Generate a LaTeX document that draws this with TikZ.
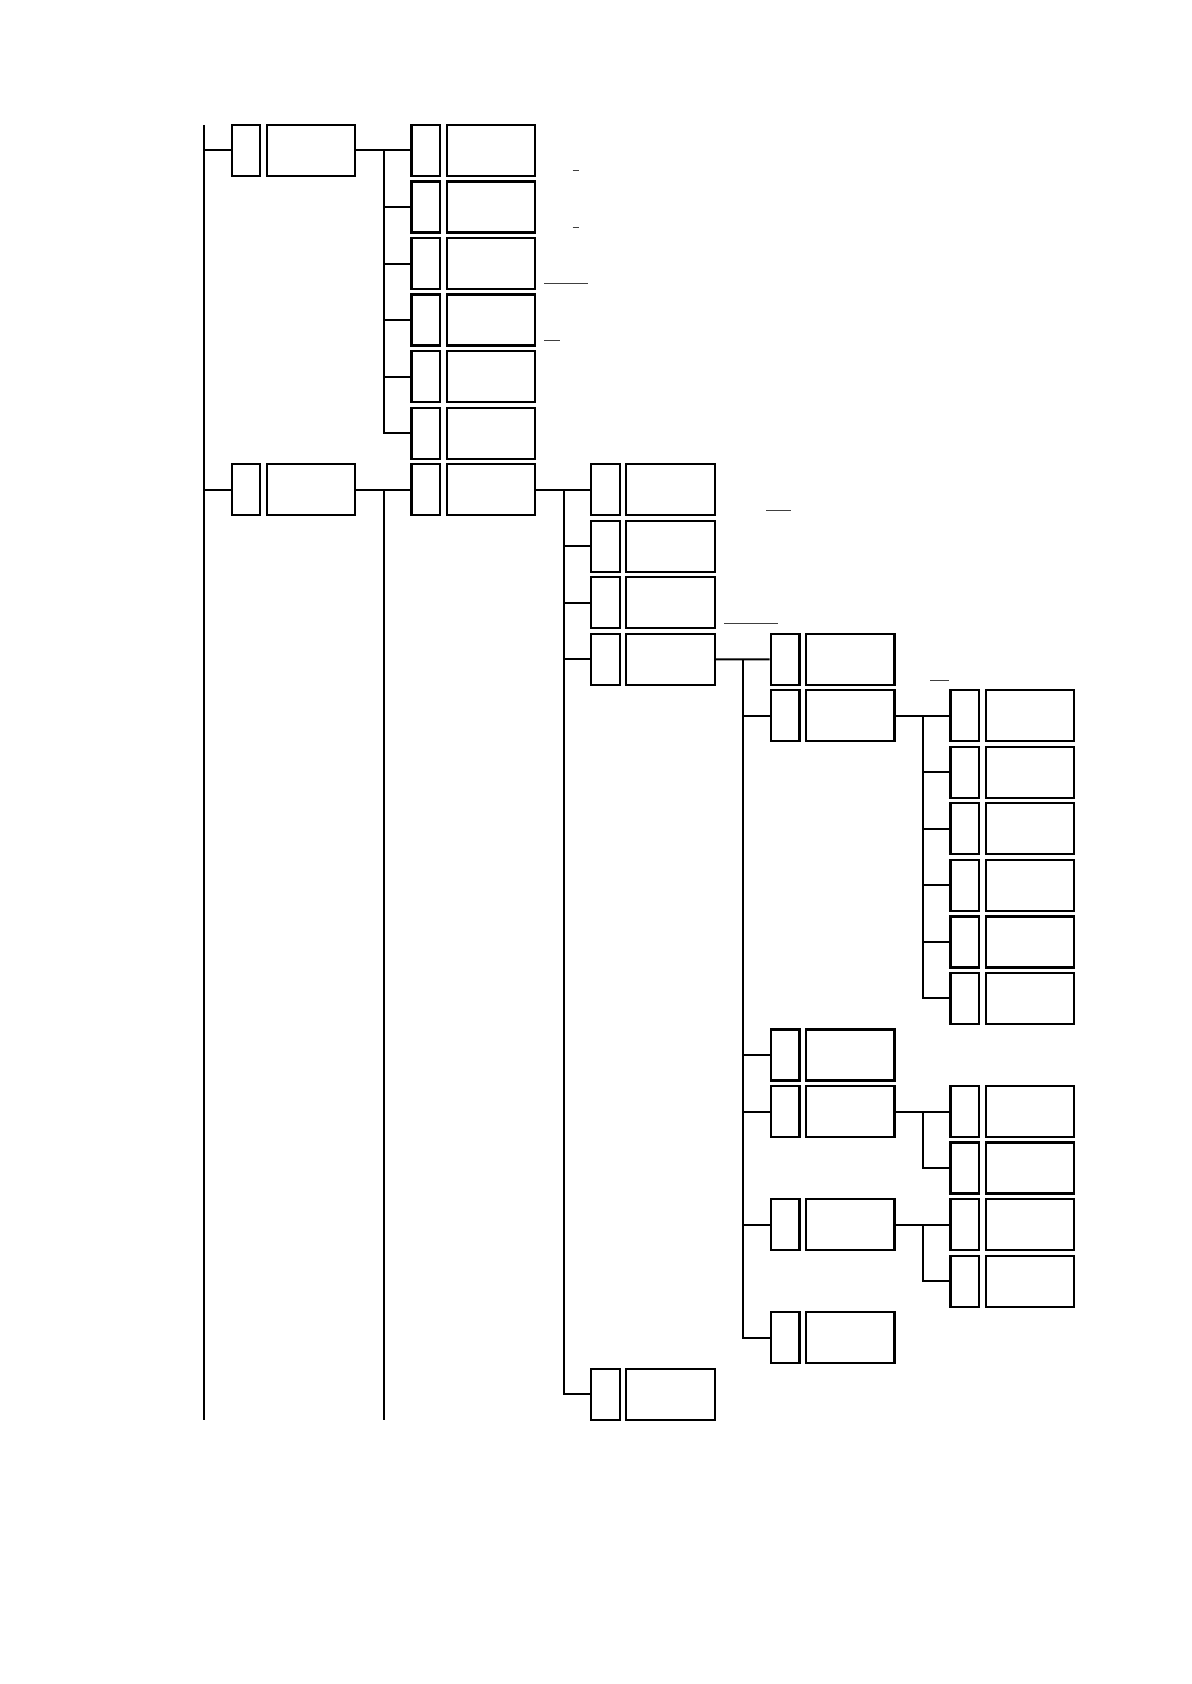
\documentclass[tikz,border=0pt]{standalone}
\usetikzlibrary{positioning, calc}

\begin{document}
\begin{tikzpicture}[
    x=0.5pt, y=-0.5pt,
    node distance=2.2pt,
    num/.style={rectangle, draw, line width=1.1pt, inner sep=0pt, minimum width=14.3pt, minimum height=25.5pt},
    title/.style={num, minimum width=44.2pt},
    line/.style={draw, line width=1pt},
    rule/.style={draw, line width=0.5pt, black!75}
]
\useasboundingbox (0,0) rectangle (1191,1684);

% level 0
\node [num] (n1) at (246,150.5) {};
\node [num] (n2) at (246,489.7) {};
\node [title, right=of n1] (t1) {};
\node [title, right=of n2] (t2) {};

% level 1
\foreach \i in {1,...,6}
    \node [num] (n1\i) at (425.7,{150.5+56.53*(\i-1)}) {};
\node [num] (n21) at (425.7,489.7) {};
\foreach \i in {11,...,16,21}
    \node [title, right=of n\i] (t\i) {};

% level 2
\foreach \i in {1,...,4}
    \node [num] (n21\i) at (605.4,{489.7+56.53*(\i-1)}) {};
\node [num] (n215) at (605.4,1394.2) {};
\foreach \i in {211,...,215}
    \node [title, right=of n\i] (t\i) {};

% level 3
\node [num] (n2141) at (785.1,659.3) {};
\node [num] (n2142) at (785.1,715.8) {};
\node [num] (n2143) at (785.1,1055.0) {};
\node [num] (n2144) at (785.1,1111.5) {};
\node [num] (n2145) at (785.1,1224.6) {};
\node [num] (n2146) at (785.1,1337.6) {};
\foreach \i in {2141,...,2146}
    \node [title, right=of n\i] (t\i) {};

% level 4
\foreach \i in {1,...,6}
    \node [num] (n2142\i) at (964.8,{715.8+56.53*(\i-1)}) {};
\node [num] (n21441) at (964.8,1111.5) {};
\node [num] (n21442) at (964.8,1168.0) {};
\node [num] (n21451) at (964.8,1224.6) {};
\node [num] (n21452) at (964.8,1281.1) {};
\foreach \i in {21421,21422,21423,21424,21425,21426,21441,21442,21451,21452}
    \node [title, right=of n\i] (t\i) {};

% spines
\coordinate (top) at (203.5,125);
\coordinate (bottom) at (203.5,1420);
\coordinate (s1) at ($(t1.east)+(27.6,0)$);
\coordinate (s2) at ($(t2.east)+(27.6,0)$);
\coordinate (s21) at ($(t21.east)+(27.6,0)$);
\coordinate (s214) at ($(t214.east)+(27.6,0)$);
\coordinate (s2142) at ($(t2142.east)+(27.6,0)$);
\coordinate (s2144) at ($(t2144.east)+(27.6,0)$);
\coordinate (s2145) at ($(t2145.east)+(27.6,0)$);

\path [line] (top) -- (bottom);
\path [line] (top |- n1.west) -- (n1.west);
\path [line] (top |- n2.west) -- (n2.west);

\path [line] (t1.east) -- (n11.west);
\foreach \i in {12,...,16}
    \path [line] (s1) |- (n\i.west);
\path [line] (t2.east) -- (n21.west);
\path [line] (s2) -- (s2 |- bottom);

\path [line] (t21.east) -- (n211.west);
\foreach \i in {212,...,215}
    \path [line] (s21) |- (n\i.west);

\path [line] (t214.east) -- (n2141.west);
\foreach \i in {2142,...,2146}
    \path [line] (s214) |- (n\i.west);

\path [line] (t2142.east) -- (n21421.west);
\foreach \i in {21422,21423,21424,21425,21426}
    \path [line] (s2142) |- (n\i.west);
\path [line] (t2144.east) -- (n21441.west);
\path [line] (s2144) |- (n21442.west);
\path [line] (t2145.east) -- (n21451.west);
\path [line] (s2145) |- (n21452.west);

% stray rules
\path [rule] (572.7,171) -- (578.7,171);
\path [rule] (572.7,227.3) -- (578.7,227.3);
\path [rule] (544.3,284) -- (588.3,284);
\path [rule] (544.3,340.7) -- (560,340.7);
\path [rule] (766,510) -- (791,510);
\path [rule] (724,623.3) -- (777.7,623.3);
\path [rule] (930,680) -- (949.3,680);
\end{tikzpicture}
\end{document}
